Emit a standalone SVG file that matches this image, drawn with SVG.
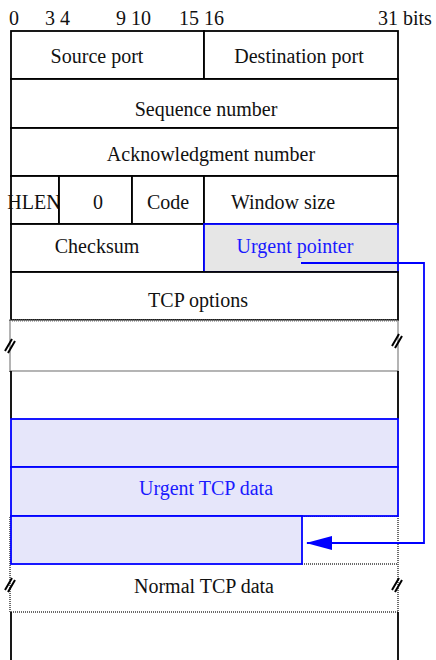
<svg xmlns="http://www.w3.org/2000/svg" width="436" height="660" viewBox="0 0 436 660" font-family="'Liberation Serif', 'Times New Roman', serif">
<defs>
<style>
text{font-family:"Liberation Serif","Times New Roman",serif;font-size:20px;fill:#111}
.c{text-anchor:middle}
.b{fill:#1a1aff}
.cell{fill:#fff;stroke:#000;stroke-width:1.8}
.ln{fill:none;stroke:#000;stroke-width:1.8}
.hatch{fill:#fff;stroke:#6a6a6a;stroke-width:2;stroke-dasharray:1 1}
.hl{fill:none;stroke:#6a6a6a;stroke-width:2;stroke-dasharray:1 1}
.urg{fill:#e6e6fa;stroke:#0000ff;stroke-width:1.8}
.brk{fill:none;stroke:#000;stroke-width:2}
</style>
<marker id="ah" markerWidth="26" markerHeight="14" refX="25" refY="7" orient="auto" markerUnits="userSpaceOnUse">
<path d="M0,0 L26,7 L0,14 Z" fill="#0000ff"/>
</marker>
</defs>
<rect width="436" height="660" fill="#fff"/>

<g id="header">
<text x="9" y="25">0</text>
<text x="45" y="25">3 4</text>
<text x="116" y="25">9 10</text>
<text x="179" y="25">15 16</text>
<text x="378" y="25">31 bits</text>
</g>

<g id="source-port"><rect class="cell" x="11" y="31" width="193" height="48"/><text class="c" x="97" y="63">Source port</text></g>
<g id="destination-port"><rect class="cell" x="204" y="31" width="194" height="48"/><text class="c" x="299" y="63">Destination port</text></g>
<g id="sequence-number"><rect class="cell" x="11" y="79" width="387" height="49"/><text class="c" x="206" y="116">Sequence number</text></g>
<g id="ack-number"><rect class="cell" x="11" y="128" width="387" height="48"/><text class="c" x="211" y="161">Acknowledgment number</text></g>
<g id="hlen"><rect class="cell" x="11" y="176" width="48" height="48"/><text class="c" x="34" y="209">HLEN</text></g>
<g id="reserved"><rect class="cell" x="59" y="176" width="73" height="48"/><text class="c" x="98" y="209">0</text></g>
<g id="code"><rect class="cell" x="132" y="176" width="72" height="48"/><text class="c" x="168" y="209">Code</text></g>
<g id="window-size"><rect class="cell" x="204" y="176" width="194" height="48"/><text class="c" x="283" y="209">Window size</text></g>
<g id="checksum"><rect class="cell" x="11" y="224" width="193" height="48"/><text class="c" x="97" y="253">Checksum</text></g>
<g id="urgent-pointer"><rect x="204" y="224" width="194" height="48" fill="#e6e6e6" stroke="#0000ff" stroke-width="1.8"/><text class="c b" x="295" y="253">Urgent pointer</text></g>
<g id="tcp-options"><rect class="cell" x="11" y="272" width="387" height="48"/><text class="c" x="198" y="307">TCP options</text></g>

<g id="options-break">
<rect class="hatch" x="10" y="320.5" width="388" height="50.5"/>
<path class="brk" d="M5,351 L12,339 M8,353 L15,341"/>
<path class="brk" d="M392,346 L399,334 M395,348 L402,336"/>
</g>

<g id="padding-row">
<path class="ln" d="M11,371 V419 M398,371 V419"/>
</g>

<g id="data-break">
<rect class="hatch" x="10" y="516" width="388" height="96"/>
<path class="hl" d="M302,564 H398"/>
<path class="brk" d="M5,590 L12,578 M8,592 L15,580"/>
<path class="brk" d="M392,590 L399,578 M395,592 L402,580"/>
<text class="c" x="204" y="593">Normal TCP data</text>
</g>

<g id="urgent-data">
<rect class="urg" x="11" y="419" width="387" height="48"/>
<rect class="urg" x="11" y="467" width="387" height="49"/>
<rect class="urg" x="11" y="516" width="291" height="48"/>
<text class="c b" x="206" y="495">Urgent TCP data</text>
</g>

<g id="tail-row">
<path class="ln" d="M11,612 V660 M398,612 V660"/>
</g>

<g id="connectors">
<path d="M301,263 H424 V543 H307" fill="none" stroke="#0000ff" stroke-width="1.8" marker-end="url(#ah)"/>
</g>
</svg>
